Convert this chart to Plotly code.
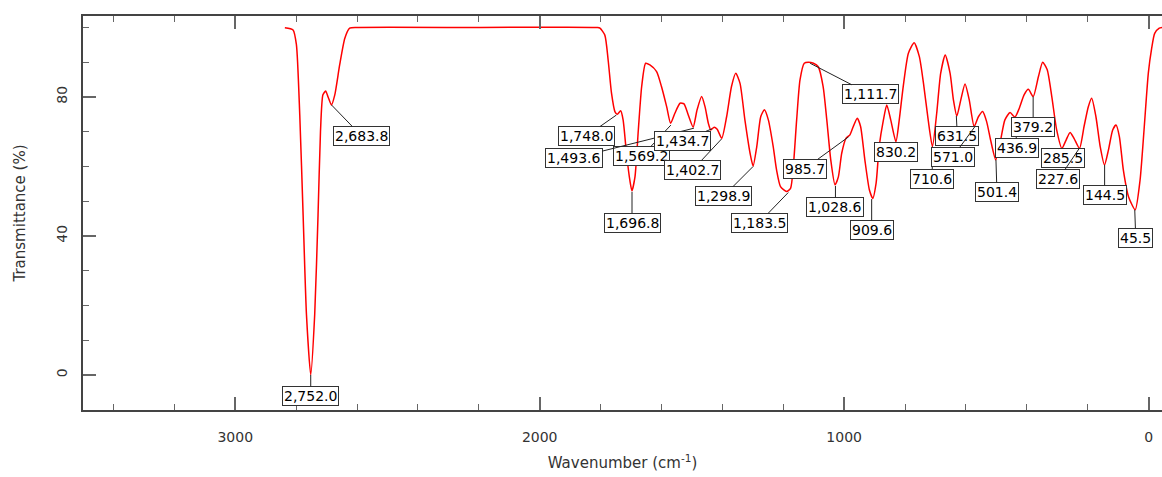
import plotly.graph_objects as go

# Spectrum trace (wavenumber cm-1, transmittance %)
wavenumber = [2837, 2810, 2799, 2788, 2777, 2766, 2752, 2739, 2728, 2720, 2712, 2703, 2695, 2684,
              2673, 2657, 2640, 2624, 2600, 2200, 1810, 1802, 1786, 1775, 1764, 1753, 1745, 1734,
              1726, 1715, 1704, 1697, 1687, 1676, 1665, 1652, 1638, 1616, 1600, 1583, 1570, 1556,
              1539, 1526, 1512, 1496, 1483, 1468, 1457, 1446, 1438, 1427, 1417, 1402, 1386, 1370,
              1356, 1342, 1326, 1309, 1299, 1287, 1274, 1262, 1249, 1233, 1222, 1209, 1189, 1176,
              1167, 1156, 1145, 1131, 1118, 1101, 1085, 1069, 1057, 1044, 1030, 1019, 1008, 994,
              981, 970, 957, 946, 932, 917, 906, 895, 885, 871, 860, 847, 830, 819, 806, 789, 770,
              753, 738, 724, 710, 696, 683, 668, 652, 641, 630, 617, 603, 589, 573, 559, 545, 532,
              519, 502, 488, 472, 455, 439, 425, 409, 395, 379, 362, 348, 333, 318, 302, 285, 271,
              258, 245, 227, 212, 198, 187, 173, 159, 145, 132, 118, 107, 96, 83, 66, 44, 28, 15,
              1, -10, -20, -35, -44]
transmittance = [99.9, 99.3, 95.0, 74.8, 46.0, 17.3, 0.0, 17.3, 46.0, 70.0, 80.6, 81.7, 80.0, 77.7,
                 80.6, 89.2, 96.9, 99.8, 100.0, 100.0, 100.0, 99.8, 97.8, 90.5, 81.0, 75.8, 75.0, 76.0,
                 73.4, 63.8, 56.1, 53.0, 57.0, 70.5, 83.0, 89.7, 89.2, 87.3, 83.0, 77.2, 72.4, 75.3,
                 78.2, 78.0, 74.8, 71.3, 76.3, 80.1, 77.2, 72.4, 70.5, 71.3, 70.7, 68.1, 74.3, 83.0,
                 86.8, 83.9, 73.4, 63.8, 60.1, 65.7, 74.3, 76.3, 73.4, 65.7, 59.0, 54.2, 52.8, 53.7,
                 59.9, 73.4, 84.9, 89.7, 90.0, 89.7, 88.7, 83.0, 73.4, 61.9, 54.7, 57.0, 63.8, 68.1,
                 69.1, 71.5, 73.9, 71.5, 61.9, 53.2, 50.8, 55.2, 65.7, 73.4, 77.7, 73.4, 67.1, 73.4,
                 83.0, 92.6, 95.6, 91.6, 83.0, 73.4, 65.7, 75.3, 86.8, 92.1, 86.8, 79.1, 74.5, 79.1,
                 83.7, 79.1, 71.5, 74.3, 75.8, 72.9, 67.6, 61.9, 66.7, 73.4, 75.5, 74.2, 76.7, 80.6,
                 82.2, 80.1, 85.8, 90.0, 87.8, 80.1, 70.5, 65.2, 67.6, 69.8, 68.1, 65.2, 71.5, 77.2,
                 79.6, 74.3, 65.7, 60.4, 64.7, 70.5, 71.9, 68.6, 59.0, 51.3, 47.5, 56.1, 70.5, 86.8,
                 94.0, 98.3, 99.8, 100.0]

# Labelled peaks
peak_wn = [2752.0, 2683.8, 1748.0, 1696.8, 1569.2, 1493.6, 1434.7, 1402.7, 1298.9, 1183.5,
           1111.7, 1028.6, 985.7, 909.6, 830.2, 710.6, 631.5, 571.0, 501.4, 436.9, 379.2,
           285.5, 227.6, 144.5, 45.5]
peak_t = [0.0, 77.7, 74.8, 52.7, 71.9, 71.0, 70.8, 67.9, 60.0, 52.5,
          89.7, 54.4, 68.5, 50.6, 66.9, 65.7, 74.5, 71.4, 61.9, 73.9, 80.1,
          65.2, 65.2, 60.4, 47.5]

# label box offsets (pixels) from the peak point
label_dx = [0, 30, -30, 0, -29, -120, -29, -29, -30, -29,
            60, 0, -44, 0, 0, 0, 1, -22, 1, 1, 0,
            1, -21, 0, 1]
label_dy = [21, 31, 21, 31, 31, 30, 12, 31, 30, 30,
            31, 21, 32, 31, 10, 32, 20, 30, 32, 30, 30,
            10, 31, 30, 28]

x_ticks = [3000, 2000, 1000, 0]
y_ticks = [0, 40, 80]

fig = go.Figure()
fig.add_trace(go.Scatter(x=wavenumber, y=transmittance, mode="lines",
                         line=dict(color="#ff0000", width=1.5, shape="spline", smoothing=0.6),
                         hoverinfo="skip", showlegend=False))

annotations = []
for wn, t, dx, dy in zip(peak_wn, peak_t, label_dx, label_dy):
    annotations.append(dict(
        x=wn, y=t, xref="x", yref="y", text=f"{wn:,.1f}",
        showarrow=True, arrowhead=0, arrowwidth=1, arrowcolor="#222222", standoff=0,
        ax=dx, ay=dy, axref="pixel", ayref="pixel",
        font=dict(family="DejaVu Sans", size=14, color="#000000"),
        bgcolor="#ffffff", bordercolor="#333333", borderwidth=1, borderpad=1,
    ))

fig.update_layout(
    width=1162, height=477,
    margin=dict(l=83, r=0, t=16, b=67),
    paper_bgcolor="white", plot_bgcolor="white",
    font=dict(family="DejaVu Sans", size=14, color="#333333"),
    annotations=annotations,
    showlegend=False,
)
fig.update_xaxes(
    range=[3500, -44], tickvals=x_ticks, ticktext=[str(v) for v in x_ticks],
    ticks="inside", ticklen=13, tickwidth=1.5, tickcolor="#666666",
    minor=dict(dtick=200, tick0=0, ticks="inside", ticklen=6, tickwidth=1, tickcolor="#666666"),
    showline=True, linecolor="#444444", linewidth=1.5, mirror="ticks",
    showgrid=False, zeroline=False,
    tickfont=dict(family="DejaVu Sans", size=14, color="#333333"),
    ticklabelstandoff=13,
    title=dict(text="Wavenumber (cm<sup>-1</sup>)", font=dict(family="DejaVu Sans", size=15, color="#333333"), standoff=14),
)
fig.update_yaxes(
    range=[-10.1, 103.3], tickvals=y_ticks, ticktext=[str(v) for v in y_ticks],
    ticks="inside", ticklen=13, tickwidth=1.5, tickcolor="#666666", tickangle=-90,
    minor=dict(dtick=10, tick0=0, ticks="inside", ticklen=6, tickwidth=1, tickcolor="#666666"),
    showline=True, linecolor="#444444", linewidth=1.5, mirror=False,
    showgrid=False, zeroline=False,
    tickfont=dict(family="DejaVu Sans", size=14, color="#333333"),
    ticklabelstandoff=9,
    title=dict(text="Transmittance (%)", font=dict(family="DejaVu Sans", size=15, color="#333333"), standoff=24),
)

fig.write_html("out.html")
